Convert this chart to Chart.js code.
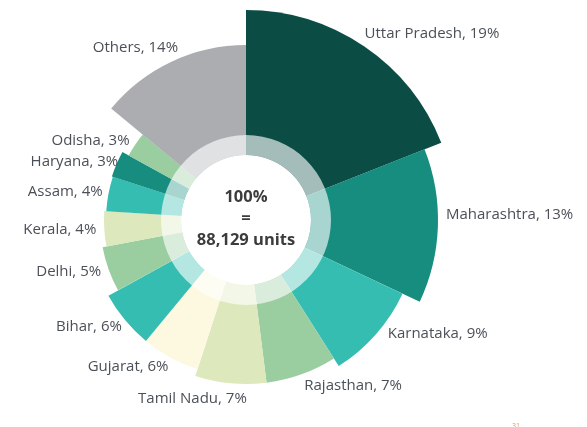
<!DOCTYPE html>
<html>
<head>
<meta charset="utf-8">
<script src="https://cdn.jsdelivr.net/npm/chart.js@4"></script>
<style>
  html, body { margin: 0; padding: 0; background: #fff; overflow: hidden; }
  #wrap { position: relative; width: 587px; height: 440px; }
  #pageNo { position: absolute; left: 512px; top: 421px; font: 7px "Open Sans", sans-serif; color: #e09a6a; }
</style>
</head>
<body>
<div id="wrap">
  <canvas id="chart"></canvas>
  <div id="pageNo">31</div>
</div>
<script>
// States, share of units (%) and slice size
const states = ["Uttar Pradesh", "Maharashtra", "Karnataka", "Rajasthan", "Tamil Nadu", "Gujarat",
  "Bihar", "Delhi", "Kerala", "Assam", "Haryana", "Odisha", "Others"];
const shares = [19, 13, 9, 7, 7, 6, 6, 5, 4, 4, 3, 3, 14];
const sizes = [210, 192, 173, 164, 164, 157, 157, 146, 142, 140, 141, 134, 175];
const colors = ["#0b4d45", "#168d7f", "#35bdb1", "#9acda0", "#dde8bd", "#fdf8e0",
  "#35bdb1", "#9acda0", "#dde8bd", "#35bdb1", "#168d7f", "#9acda0", "#acadb0"];
const totalText = ["100%", "=", "88,129 units"];

// small label nudges (x, y) where the report moved a label by hand
const nudges = {
  "Uttar Pradesh": [-4, -6],
  "Maharashtra": [0, -12],
  "Karnataka": [6, -6],
  "Rajasthan": [0, 4],
  "Tamil Nadu": [17, 7],
  "Gujarat": [2, 2],
  "Bihar": [3, 2],
  "Assam": [2, -1],
  "Haryana": [9, 1],
  "Odisha": [1, 1],
  "Others": [10, -7]
};

// Draws the inner ring, centre total and the outside labels
const overlayPlugin = {
  id: "overlay",
  afterDatasetsDraw(chart) {
    const ctx = chart.ctx;
    const arcs = chart.getDatasetMeta(0).data;
    const cx = arcs[0].x, cy = arcs[0].y;

    ctx.save();
    // translucent ring
    ctx.beginPath();
    ctx.arc(cx, cy, 85, 0, Math.PI * 2);
    ctx.arc(cx, cy, 65, 0, Math.PI * 2, true);
    ctx.fillStyle = "rgba(255,255,255,0.63)";
    ctx.fill();
    // white centre
    ctx.beginPath();
    ctx.arc(cx, cy, 65, 0, Math.PI * 2);
    ctx.fillStyle = "#fff";
    ctx.fill();

    ctx.fillStyle = "#3c3c3c";
    ctx.font = "bold 16.5px 'Open Sans', sans-serif";
    ctx.textAlign = "center";
    ctx.textBaseline = "middle";
    ctx.fillText(totalText[0], cx, cy - 23);
    ctx.fillText(totalText[1], cx, cy - 2);
    ctx.fillText(totalText[2], cx, cy + 20);

    // slice labels
    ctx.font = "15px 'Open Sans', sans-serif";
    ctx.fillStyle = "#4b5058";
    arcs.forEach((arc, i) => {
      const mid = (arc.startAngle + arc.endAngle) / 2;
      const r = arc.outerRadius + 8;
      const n = nudges[states[i]] || [0, 0];
      const x = cx + Math.cos(mid) * r + n[0];
      const y = cy + Math.sin(mid) * r + n[1];
      ctx.textAlign = Math.cos(mid) >= 0 ? "left" : "right";
      ctx.fillText(states[i] + ", " + shares[i] + "%", x, y);
    });
    ctx.restore();
  }
};

new Chart(document.getElementById("chart"), {
  type: "polarArea",
  data: {
    labels: states,
    datasets: [{
      data: sizes,
      angle: shares.map(s => s * 3.6),
      backgroundColor: colors,
      borderWidth: 0
    }]
  },
  options: {
    responsive: true,
    maintainAspectRatio: false,
    animation: false,
    layout: { padding: { top: 10, bottom: 10, left: 36, right: 131 } },
    scales: {
      r: { min: 0, max: 210, display: false }
    },
    plugins: { legend: { display: false }, tooltip: { enabled: false } }
  },
  plugins: [overlayPlugin]
});
</script>
</body>
</html>
